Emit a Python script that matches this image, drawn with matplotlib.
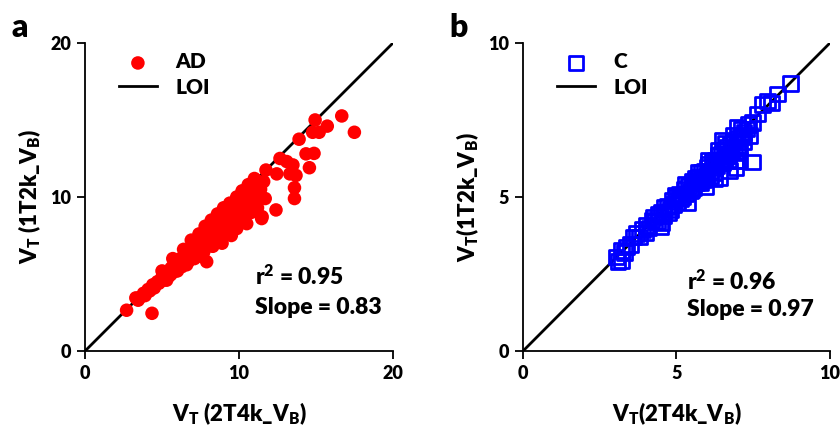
import matplotlib
matplotlib.use('Agg')
import matplotlib.pyplot as plt

plt.rcParams['font.family'] = ['Lato', 'DejaVu Sans']
plt.rcParams['font.weight'] = 'heavy'
plt.rcParams['axes.labelweight'] = 'heavy'
plt.rcParams['mathtext.fontset'] = 'custom'
plt.rcParams['mathtext.rm'] = 'Lato:heavy'
plt.rcParams['mathtext.it'] = 'Lato:heavy'
plt.rcParams['mathtext.bf'] = 'Lato:heavy'

# AD group: V_T from 2T4k_V_B (x) against 1T2k_V_B (y)
ad_x = [2.7, 4.35, 3.45, 3.3, 3.6, 3.8, 3.9, 4.1, 4.2, 4.4, 4.5, 4.7, 4.8, 5.0, 5.1,
        5.2, 5.4, 5.5, 5.6, 5.8, 5.9, 6.0, 6.1, 6.2, 6.28, 6.3, 6.5, 6.6, 6.7, 6.8,
        6.9, 7.0, 7.1, 7.2, 7.25, 7.3, 7.4, 7.5, 7.6, 7.7, 7.8, 7.9, 7.9, 8.0, 8.1,
        8.2, 8.3, 8.4, 8.5, 8.55, 8.6, 8.7, 8.8, 8.9, 9.0, 9.1, 9.2, 9.3, 9.4, 9.5,
        9.6, 9.63, 9.7, 9.85, 9.9, 10.0, 10.1, 10.2, 10.3, 10.4, 10.5, 10.5, 10.5,
        10.6, 10.7, 10.8, 10.9, 11.0, 11.04, 11.1, 11.15, 11.2, 11.3, 11.4, 11.47,
        11.5, 11.6, 11.7, 11.75, 12.4, 12.45, 12.66, 13.1, 13.3, 13.5, 13.6, 13.6,
        13.7, 13.9, 14.35, 14.57, 14.78, 14.87, 14.94, 15.2, 15.73, 16.67, 17.49,
        5.0, 5.7, 6.4, 6.9, 7.4, 7.8, 8.2, 8.6, 9.0, 9.4, 9.85, 10.2, 10.6, 11.0,
        6.0, 6.6, 7.0, 7.6, 8.0, 8.4, 8.8, 9.2, 9.6, 10.0, 10.3, 10.8, 11.2, 5.6,
        5.3, 8.9, 9.5]
ad_y = [2.65, 2.45, 3.3, 3.45, 3.5, 3.75, 3.6, 4.0, 3.9, 4.3, 4.1, 4.5, 4.4, 4.8, 4.6,
        5.0, 5.2, 4.9, 5.4, 5.5, 5.2, 5.8, 5.6, 6.0, 5.47, 5.9, 6.2, 6.0, 5.8, 6.5,
        6.2, 6.7, 6.0, 6.8, 6.12, 6.5, 7.0, 6.7, 7.2, 6.4, 7.3, 5.8, 6.9, 7.6, 7.1,
        7.8, 6.8, 7.5, 8.0, 7.2, 7.7, 8.3, 7.4, 8.0, 8.5, 7.9, 8.2, 8.8, 7.6, 8.5,
        9.0, 8.48, 8.2, 7.95, 8.8, 9.4, 8.6, 9.1, 9.8, 8.9, 9.5, 8.27, 10.2,
        10.2, 9.2, 9.8, 10.5, 9.6, 10.6, 10.1, 11.07, 10.8, 9.9, 10.5, 8.6,
        8.72, 11.0, 9.9, 11.75, 9.16, 11.5, 12.5, 12.3, 11.5, 12.08, 10.6, 9.9,
        11.4, 13.75, 12.8, 11.9, 14.2, 12.83, 15.0, 14.2, 14.6, 15.26, 14.2,
        5.2, 6.0, 6.6, 7.2, 7.6, 8.1, 8.5, 8.9, 9.3, 9.6, 10.0, 10.4, 10.8, 11.2,
        5.2, 5.6, 6.2, 6.5, 6.8, 7.0, 7.3, 7.6, 8.0, 8.3, 8.5, 9.0, 9.3, 5.0,
        4.6, 7.0, 7.5]

# C group
c_x = [3.04, 3.2, 3.1, 3.2, 3.37, 3.3, 3.5, 3.69, 3.8, 3.9, 4.02, 4.1, 4.2, 4.3, 4.4,
       4.53, 4.5, 4.6, 4.7, 4.8, 4.85, 4.9, 5.0, 5.05, 5.1, 5.2, 5.25, 5.3, 5.37, 5.4,
       5.45, 5.5, 5.55, 5.6, 5.65, 5.7, 5.75, 5.8, 5.85, 5.9, 5.96, 6.0, 6.0, 6.05,
       6.1, 6.15, 6.2, 6.23, 6.25, 6.3, 6.35, 6.4, 6.4, 6.45, 6.5, 6.5, 6.55, 6.6,
       6.65, 6.72, 6.7, 6.75, 6.8, 6.85, 6.9, 6.94, 6.94, 6.99, 7.0, 7.05, 7.1, 7.15,
       7.2, 7.3, 7.48, 7.48, 7.64, 7.8, 7.96, 8.1, 8.29, 8.72,
       3.6, 4.0, 4.25, 4.6, 4.75, 4.95, 5.15, 5.3, 5.5, 5.7, 5.8, 6.05, 6.2, 6.35,
       6.5, 6.6, 6.7, 6.85, 7.0, 7.1, 7.2, 7.35, 7.4, 4.4, 5.9, 6.1, 4.5, 7.05]
c_y = [3.05, 2.94, 2.9, 3.26, 3.37, 3.2, 3.45, 3.81, 3.7, 3.95, 4.08, 4.0, 4.25, 4.2, 4.45,
       4.15, 4.5, 4.4, 4.7, 4.6, 4.9, 4.75, 5.0, 4.85, 5.1, 5.0, 5.25, 5.1, 4.83, 5.35,
       5.2, 5.5, 5.3, 5.6, 5.45, 5.65, 5.5, 5.8, 5.6, 5.85, 5.32, 5.95, 5.7, 6.05,
       5.85, 6.15, 5.95, 5.59, 6.2, 6.0, 6.35, 5.64, 6.15, 6.4, 6.83, 6.2, 6.5, 6.3,
       6.6, 5.86, 6.4, 6.7, 6.5, 6.8, 6.6, 5.96, 6.18, 7.26, 6.9, 6.6, 7.0, 6.94,
       7.1, 7.2, 7.42, 6.13, 7.69, 8.0, 8.12, 8.05, 8.34, 8.68,
       3.7, 3.85, 4.35, 4.65, 4.5, 5.05, 4.95, 5.4, 5.25, 5.8, 5.45, 6.2, 5.8, 6.5,
       6.1, 6.75, 6.2, 7.0, 6.5, 7.2, 6.8, 7.35, 7.0, 4.2, 5.55, 5.7, 4.02, 6.18]

panels = [
    dict(x=ad_x, y=ad_y, label='AD', lim=20, ticks=[0, 10, 20], letter='a',
         r2='0.95', slope='0.83', text_x=0.552, text_y=(0.214, 0.12),
         xlabel=r'V$_\mathrm{T}$ (2T4k_V$_\mathrm{B}$)',
         ylabel=r'V$_\mathrm{T}$ (1T2k_V$_\mathrm{B}$)'),
    dict(x=c_x, y=c_y, label='C', lim=10, ticks=[0, 5, 10], letter='b',
         r2='0.96', slope='0.97', text_x=0.533, text_y=(0.198, 0.114),
         xlabel=r'V$_\mathrm{T}$(2T4k_V$_\mathrm{B}$)',
         ylabel=r'V$_\mathrm{T}$(1T2k_V$_\mathrm{B}$)'),
]

fig = plt.figure(figsize=(8.4, 4.25), dpi=100)
axes = [fig.add_axes([0.1012, 0.174, 0.3667, 0.725]),
        fig.add_axes([0.6226, 0.174, 0.3655, 0.725])]

for ax, p in zip(axes, panels):
    if p['label'] == 'AD':
        ax.scatter(p['x'], p['y'], s=95, color='#ff0000', edgecolors='none',
                   label=p['label'], zorder=3)
    else:
        ax.scatter(p['x'], p['y'], s=110, marker='s', facecolors='none',
                   edgecolors='#0000ff', linewidths=2.0, label=p['label'], zorder=3)
    ax.plot([0, p['lim']], [0, p['lim']], color='black', lw=2.0, label='LOI', zorder=2)

    ax.set_xlim(0, p['lim'])
    ax.set_ylim(0, p['lim'])
    ax.set_xticks(p['ticks'])
    ax.set_yticks(p['ticks'])
    ax.spines['top'].set_visible(False)
    ax.spines['right'].set_visible(False)
    for s in ('left', 'bottom'):
        ax.spines[s].set_linewidth(1.3)
    ax.tick_params(direction='out', length=6, width=1.3, labelsize=13, pad=4)
    ax.set_xlabel(p['xlabel'], fontsize=16, labelpad=13)
    ax.set_ylabel(p['ylabel'], fontsize=16, labelpad=5)

    ax.legend(loc='upper left', bbox_to_anchor=(0.05, 1.03), frameon=False,
              fontsize=15, handlelength=1.8, handletextpad=0.9, labelspacing=0.3)

    tx = p['text_x']
    ty1, ty2 = p['text_y']
    ax.text(tx, ty1, r'r$^\mathrm{2}$ = ' + p['r2'], transform=ax.transAxes,
            fontsize=16.5)
    ax.text(tx, ty2, 'Slope = ' + p['slope'], transform=ax.transAxes,
            fontsize=16.5)
    ax.text(-0.24, 1.02, p['letter'], transform=ax.transAxes, fontsize=23)

fig.savefig('out.png', dpi=100)
